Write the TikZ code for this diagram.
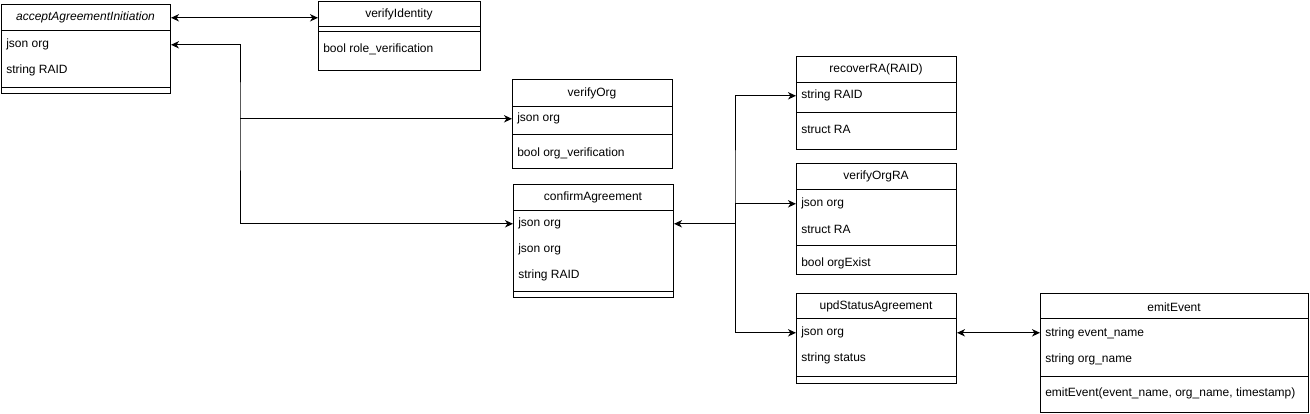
\documentclass[tikz,border=0pt]{standalone}
\usepackage{fontspec}
\setmainfont{Liberation Sans}
\usetikzlibrary{arrows.meta}
\begin{document}
\begin{tikzpicture}[x=0.75pt,y=-0.75pt,
  cls/.style={draw, line width=0.75pt, inner sep=0pt, anchor=north west},
  sz/.style 2 args={minimum width=#1*0.75pt, minimum height=#2*0.75pt},
  ttl/.style={font=\fontsize{9}{11}\selectfont, inner sep=0pt, yshift=-0.6pt},
  rowtxt/.style={font=\fontsize{9}{11}\selectfont, inner sep=0pt, anchor=west, yshift=-0.6pt},
  sepline/.style={line width=0.75pt},
  tip/.tip={Stealth[length=6pt,width=5.5pt,inset=1.8pt]},
  conn/.style={line width=0.75pt, -tip},
  conntwo/.style={line width=0.75pt, tip-tip}]
\useasboundingbox (0,0) rectangle (1310,414);

% acceptAgreementInitiation
\node[cls, sz={169}{89}] (acc) at (1,4) {};
\node[ttl] (acct) at (85.5,17) {\itshape acceptAgreementInitiation};
\draw[sepline] (1,30) -- (170,30);
\node[rowtxt] (acc1) at (6,44) {json org};
\node[rowtxt] (acc2) at (6,70) {string RAID};
\draw[sepline] (1,87) -- (170,87);

% verifyIdentity
\node[cls, sz={162}{69}] (vid) at (318,1) {};
\node[ttl] (vidt) at (399,14) {verifyIdentity};
\draw[sepline] (318,26) -- (480,26);
\draw[sepline] (318,31) -- (480,31);
\node[rowtxt] (vid1) at (323,49) {bool role\_verification};

% verifyOrg
\node[cls, sz={160}{89}] (vorg) at (512,79) {};
\node[ttl] (vorgt) at (592,93) {verifyOrg};
\draw[sepline] (512,106) -- (672,106);
\node[rowtxt] (vorg1) at (517,118) {json org};
\draw[sepline] (512,134) -- (672,134);
\node[rowtxt] (vorg2) at (517,153) {bool org\_verification};

% confirmAgreement
\node[cls, sz={160}{113}] (conf) at (513,184) {};
\node[ttl] (conft) at (593,197) {confirmAgreement};
\draw[sepline] (513,210) -- (673,210);
\node[rowtxt] (conf1) at (518,223) {json org};
\node[rowtxt] (conf2) at (518,249) {json org};
\node[rowtxt] (conf3) at (518,275) {string RAID};
\draw[sepline] (513,291) -- (673,291);

% recoverRA
\node[cls, sz={160}{93}] (rec) at (796,56) {};
\node[ttl] (rect) at (876,69) {recoverRA(RAID)};
\draw[sepline] (796,82) -- (956,82);
\node[rowtxt] (rec1) at (801,95) {string RAID};
\draw[sepline] (796,112) -- (956,112);
\node[rowtxt] (rec2) at (801,129) {struct RA};

% verifyOrgRA
\node[cls, sz={160}{111}] (vora) at (796,163) {};
\node[ttl] (vorat) at (876,176) {verifyOrgRA};
\draw[sepline] (796,189) -- (956,189);
\node[rowtxt] (vora1) at (801,203) {json org};
\node[rowtxt] (vora2) at (801,229) {struct RA};
\draw[sepline] (796,245) -- (956,245);
\node[rowtxt] (vora3) at (801,263) {bool orgExist};

% updStatusAgreement
\node[cls, sz={160}{90}] (upd) at (796,293) {};
\node[ttl] (updt) at (876,306) {updStatusAgreement};
\draw[sepline] (796,318) -- (956,318);
\node[rowtxt] (upd1) at (801,332) {json org};
\node[rowtxt] (upd2) at (801,358) {string status};
\draw[sepline] (796,376) -- (956,376);

% emitEvent
\node[cls, sz={268}{119}] (emit) at (1040,293) {};
\node[ttl] (emitt) at (1174,306) {emitEvent};
\draw[sepline] (1040,318) -- (1308,318);
\node[rowtxt] (emit1) at (1045,333) {string event\_name};
\node[rowtxt] (emit2) at (1045,359) {string org\_name};
\draw[sepline] (1040,376) -- (1308,376);
\node[rowtxt] (emit3) at (1045,393) {emitEvent(event\_name, org\_name, timestamp)};

% connectors
\coordinate (xa) at (240,0);
\coordinate (xb) at (735,0);
\coordinate (ja) at (xa |- vorg1);
\coordinate (jb) at (xb |- vora1);
\draw[conntwo] (acc.east |- acct) -- (vid.west |- acct);
\draw[conntwo] (acc.east |- acc1) -| (ja) |- (conf.west |- conf1);
\draw[conn] (ja) -- (vorg.west |- vorg1);
\draw[conntwo] (conf.east |- conf1) -| (jb) |- (rec.west |- rec1);
\draw[conn] (jb) -- (vora.west |- vora1);
\draw[conn] (jb) |- (upd.west |- upd1);
\draw[conntwo] (upd.east |- upd1) -- (emit.west |- upd1);
\end{tikzpicture}
\end{document}
